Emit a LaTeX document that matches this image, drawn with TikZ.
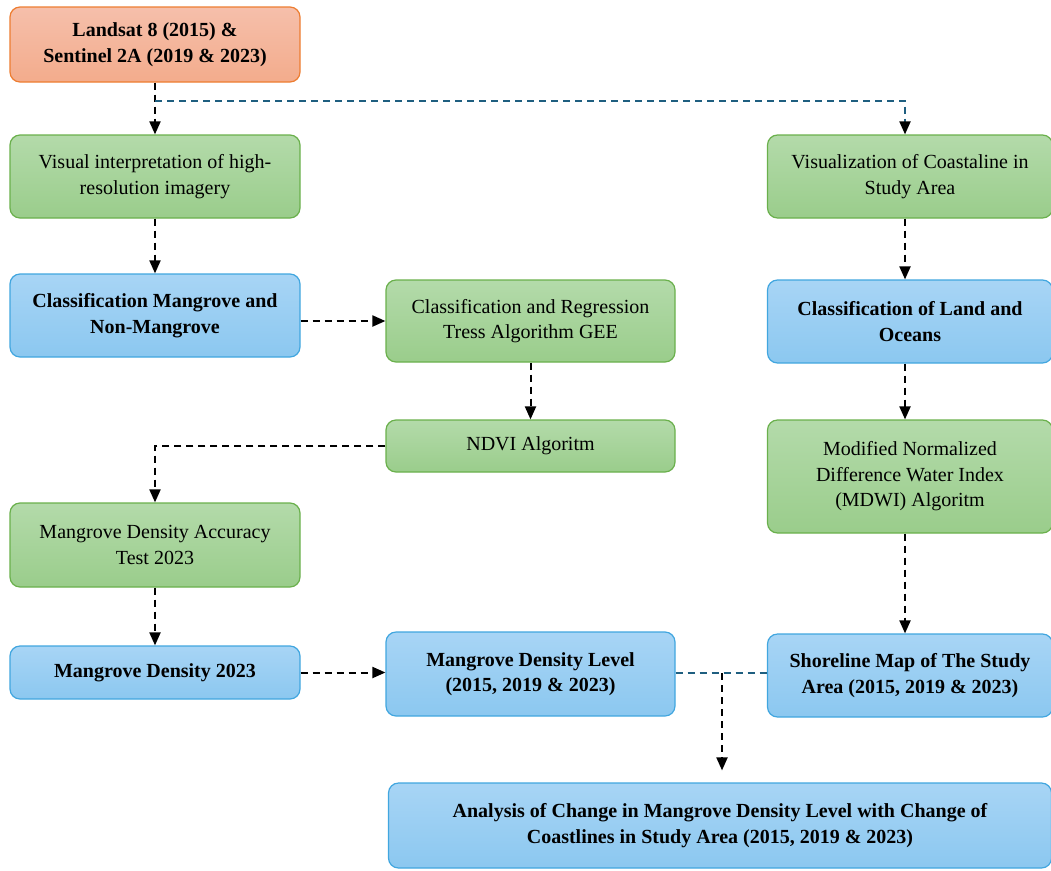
\documentclass[tikz,border=0pt]{standalone}
\usepackage{fontspec}
\setmainfont{Liberation Serif}
\usepackage{tikz}
\usetikzlibrary{arrows.meta, positioning, calc}
\definecolor{srcfill}{HTML}{F4B49C}
\definecolor{srcdraw}{HTML}{ED7D31}
\definecolor{grnfill}{HTML}{A6D49B}
\definecolor{grndraw}{HTML}{6AB04C}
\definecolor{bluefill}{HTML}{9ED0F4}
\definecolor{bluedraw}{HTML}{41A6DF}
\definecolor{linkcol}{HTML}{1F5F80}
\tikzstyle{box} = [rectangle, rounded corners=10pt,
line width=1.2pt, align=center, inner sep=2pt,
font=\fontsize{20}{25.5}\selectfont]
\tikzstyle{source} = [box, draw=srcdraw,
top color=srcfill!85!white, bottom color=srcfill!85!srcdraw,
font=\fontsize{20}{25.5}\selectfont\bfseries]
\tikzstyle{greenbox} = [box, draw=grndraw,
top color=grnfill!85!white, bottom color=grnfill!80!grndraw]
\tikzstyle{bluebox} = [box, draw=bluedraw,
top color=bluefill!90!white, bottom color=bluefill!80!bluedraw,
font=\fontsize{20}{25.5}\selectfont\bfseries]
\tikzstyle{arrow} = [line width=2pt, dash pattern=on 7pt off 5pt,
-{Triangle[length=13pt,width=11pt]}]
\tikzstyle{link} = [line width=2pt, dash pattern=on 7pt off 5pt, linkcol]

\begin{document}
\begin{tikzpicture}[x=1pt, y=-1pt]
    \useasboundingbox (0,0) rectangle (1051,870);
    % left column
    \node (src) [source, minimum width=290pt, minimum height=75pt] at (155,44.5) {Landsat 8 (2015) \&\\Sentinel 2A (2019 \& 2023)};
    \node (visual) [greenbox, minimum width=290pt, minimum height=83pt] at (155,176.5) {Visual interpretation of high-\\resolution imagery};
    \node (classmg) [bluebox, minimum width=290pt, minimum height=83pt] at (155,315.5) {Classification Mangrove and\\Non-Mangrove};
    \node (accuracy) [greenbox, minimum width=290pt, minimum height=84pt] at (155,545) {Mangrove Density Accuracy\\Test 2023};
    \node (density) [bluebox, minimum width=290pt, minimum height=53pt] at (155,672.5) {Mangrove Density 2023};
    % middle column
    \node (cart) [greenbox, minimum width=289pt, minimum height=82pt] at (530.5,321) {Classification and Regression\\Tress Algorithm GEE};
    \node (ndvi) [greenbox, minimum width=289pt, minimum height=52pt] at (530.5,446) {NDVI Algoritm};
    \node (level) [bluebox, minimum width=289pt, minimum height=84pt] at (530.5,674) {Mangrove Density Level\\(2015, 2019 \& 2023)};
    % right column
    \node (coast) [greenbox, minimum width=285pt, minimum height=83pt] at (910,176.5) {Visualization of Coastaline in\\Study Area};
    \node (landocean) [bluebox, minimum width=285pt, minimum height=83pt] at (910,321.5) {Classification of Land and\\Oceans};
    \node (mdwi) [greenbox, minimum width=285pt, minimum height=113pt] at (910,476.5) {Modified Normalized\\Difference Water Index\\(MDWI) Algoritm};
    \node (shore) [bluebox, minimum width=285pt, minimum height=83pt] at (910,675.5) {Shoreline Map of The Study\\Area (2015, 2019 \& 2023)};
    % bottom
    \node (analysis) [bluebox, minimum width=663pt, minimum height=85pt] at (720,825.5) {Analysis of Change in Mangrove Density Level with Change of\\Coastlines in Study Area (2015, 2019 \& 2023)};

    \coordinate (split) at ($(src.south)+(0,18)$);
    \coordinate (join) at (722,673);

    \draw [arrow] (src) -- (visual);
    \draw [link] (split) -| ($(coast.north)+(-5,-8)$);
    \draw [arrow] ($(coast.north)+(-5,-8)$) -- ($(coast.north)+(-5,0)$);
    \draw [arrow] (visual) -- (classmg);
    \draw [arrow] (classmg.east |- cart.west) -- (cart.west);
    \draw [arrow] (cart.south) -- (ndvi.north);
    \draw [arrow] (ndvi.west) -| (accuracy.north);
    \draw [arrow] (accuracy) -- (density);
    \draw [arrow] (density) -- (level.west |- density);
    \draw [arrow] ($(coast.south)+(-5,0)$) -- ($(landocean.north)+(-5,0)$);
    \draw [arrow] ($(landocean.south)+(-5,0)$) -- ($(mdwi.north)+(-5,0)$);
    \draw [arrow] ($(mdwi.south)+(-5,0)$) -- ($(shore.north)+(-5,0)$);
    \draw [link] (level.east |- join) -- (shore.west |- join);
    \draw [arrow] (join) -- ($(analysis.north -| join)+(0,-12)$);
\end{tikzpicture}
\end{document}
